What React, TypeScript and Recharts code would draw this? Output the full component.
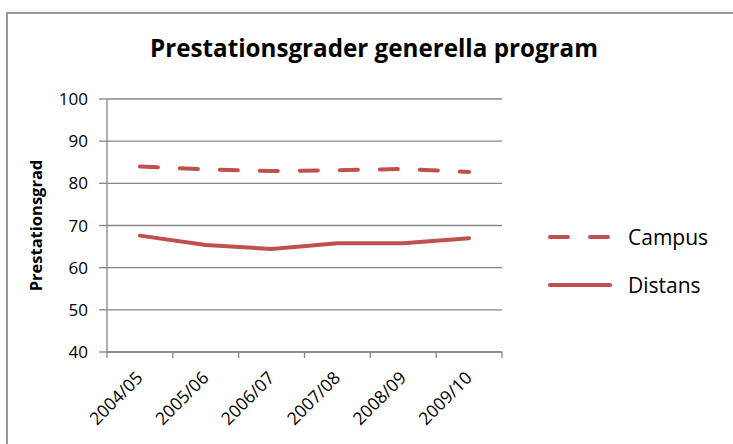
import React from "react";
import {
  LineChart,
  Line,
  XAxis,
  YAxis,
  CartesianGrid,
  Legend,
} from "recharts";

const years = ["2004/05", "2005/06", "2006/07", "2007/08", "2008/09", "2009/10"];
const campus = [84.0, 83.3, 82.9, 83.1, 83.4, 82.7];
const distans = [67.6, 65.4, 64.4, 65.8, 65.8, 67.0];
const yTicks = [40, 50, 60, 70, 80, 90, 100];

const RED = "#C0504D";
const GRID = "#868686";
const FONT = "'Open Sans', sans-serif";

const data = years.map((year, i) => ({
  year,
  Campus: campus[i],
  Distans: distans[i],
}));

// category tick: Excel-style tick marks between categories, rotated label
const YearTick = ({ x, y, payload, index }: any) => {
  const half = payload.offset || 0;
  const last = index === years.length - 1;
  return (
    <g>
      <line x1={x - half} y1={y} x2={x - half} y2={y + 6} stroke={GRID} strokeWidth={1.3} />
      {last && (
        <line x1={x + half} y1={y} x2={x + half} y2={y + 6} stroke={GRID} strokeWidth={1.3} />
      )}
      <text
        x={x + 4}
        y={y + 27}
        transform={`rotate(-45, ${x + 4}, ${y + 27})`}
        textAnchor="end"
        fill="#000"
        fontSize={17.5}
        fontFamily={FONT}
      >
        {payload.value}
      </text>
    </g>
  );
};

const CustomLegend = ({ payload }: any) => {
  return (
    <div style={{ fontFamily: FONT, fontSize: 21, color: "#000" }}>
      {(payload || []).map((entry: any, index: number) => (
        <div
          key={`legend-${index}`}
          style={{ display: "flex", alignItems: "center", height: 48 }}
        >
          <svg width={82} height={10}>
            <line
              x1={4}
              y1={5}
              x2={64}
              y2={5}
              stroke={RED}
              strokeWidth={4}
              strokeLinecap="round"
              strokeDasharray={entry.value === "Campus" ? "18 22" : undefined}
            />
          </svg>
          <span>{entry.value}</span>
        </div>
      ))}
    </div>
  );
};

const App = () => {
  return (
    <div
      style={{
        position: "absolute",
        left: 0,
        top: 0,
        width: 733,
        height: 444,
        background: "#fff",
        overflow: "hidden",
      }}
    >
      <div
        style={{
          position: "absolute",
          left: 6,
          top: 12,
          width: 740,
          height: 460,
          borderLeft: `2px solid #9a9a9a`,
          borderTop: `2px solid #9a9a9a`,
        }}
      />
      <div
        style={{
          position: "absolute",
          left: 0,
          top: 31,
          width: 748,
          textAlign: "center",
          fontFamily: FONT,
          fontWeight: 700,
          fontSize: 24.2,
          color: "#000",
          whiteSpace: "nowrap",
        }}
      >
        Prestationsgrader generella program
      </div>
      <LineChart
        width={733}
        height={444}
        data={data}
        margin={{ top: 99, right: 231, bottom: 0, left: 0 }}
        style={{ position: "absolute", left: 0, top: 0 }}
      >
        <CartesianGrid vertical={false} stroke={GRID} strokeWidth={1.3} />
        <XAxis
          dataKey="year"
          scale="band"
          height={92}
          stroke={GRID}
          strokeWidth={1.3}
          tickLine={false}
          tickSize={0}
          tickMargin={0}
          interval={0}
          tick={<YearTick />}
        />
        <YAxis
          width={107}
          domain={[40, 100]}
          ticks={yTicks}
          interval={0}
          tickSize={8}
          tickMargin={11}
          stroke={GRID}
          strokeWidth={1.3}
          tick={{ fill: "#000", fontSize: 17, fontFamily: FONT }}
          label={{
            value: "Prestationsgrad",
            angle: -90,
            position: "insideLeft",
            offset: 36,
            style: {
              textAnchor: "middle",
              fontFamily: FONT,
              fontWeight: 700,
              fontSize: 16.5,
              fill: "#000",
            },
          }}
        />
        <Legend
          layout="horizontal"
          verticalAlign="middle"
          align="center"
          content={<CustomLegend />}
          wrapperStyle={{ left: 546, top: 213, width: 185 }}
        />
        <Line
          dataKey="Campus"
          stroke={RED}
          strokeWidth={4}
          strokeDasharray="18 22"
          strokeLinecap="round"
          dot={false}
          activeDot={false}
          isAnimationActive={false}
        />
        <Line
          dataKey="Distans"
          stroke={RED}
          strokeWidth={4}
          strokeLinecap="round"
          dot={false}
          activeDot={false}
          isAnimationActive={false}
        />
      </LineChart>
    </div>
  );
};

export default App;
